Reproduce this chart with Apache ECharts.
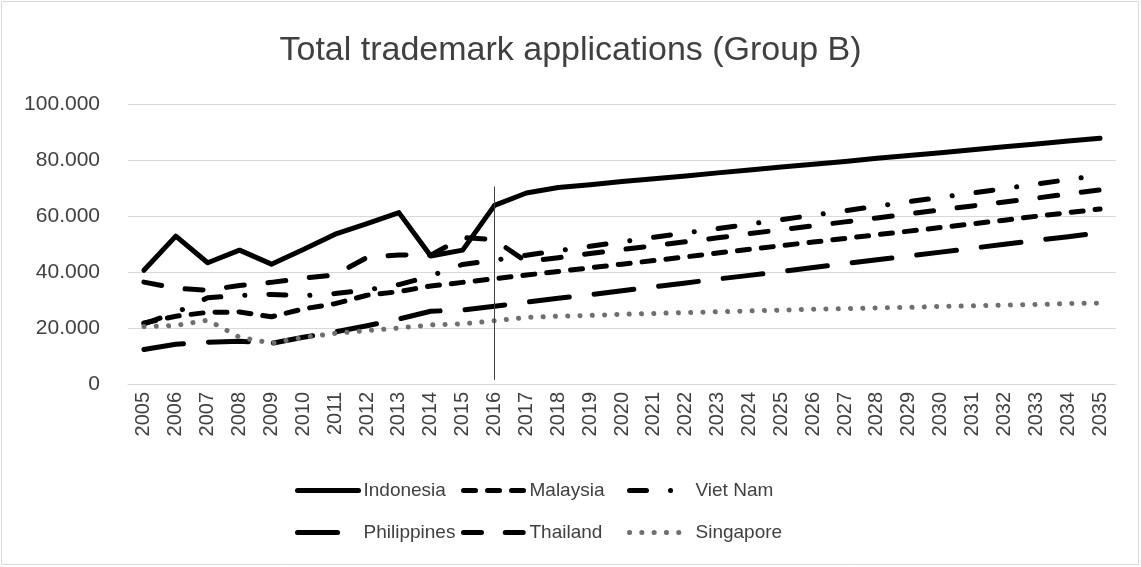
<!DOCTYPE html>
<html>
<head>
<meta charset="utf-8">
<script src="https://cdn.jsdelivr.net/npm/echarts@6/dist/echarts.min.js"></script>
<style>
  html, body { margin: 0; padding: 0; background: #fff; }
  #chart { width: 1141px; height: 567px; }
</style>
</head>
<body>
<div id="chart"></div>
<script>
  // categories
  const years = ['2005', '2006', '2007', '2008', '2009', '2010', '2011', '2012', '2013', '2014', '2015',
    '2016', '2017', '2018', '2019', '2020', '2021', '2022', '2023', '2024', '2025', '2026', '2027',
    '2028', '2029', '2030', '2031', '2032', '2033', '2034', '2035'];

  // values (applications)
  const indonesia = [40600, 52800, 43300, 47800, 42800, 48000, 53500, 57300, 61200, 45700, 47800,
    63800, 68200, 70200, 71200, 72300, 73300, 74300, 75400, 76400, 77500, 78500, 79500,
    80600, 81600, 82600, 83700, 84700, 85700, 86800, 87800];
  const malaysia = [21800, 24200, 25600, 25700, 24000, 26800, 28700, 31700, 33000, 35000, 36300,
    37600, 38900, 40200, 41500, 42800, 44100, 45400, 46800, 48100, 49400, 50700, 52000,
    53300, 54600, 55900, 57200, 58500, 59900, 61200, 62500];
  const vietNam = [21500, 25500, 30800, 31600, 32000, 31500, 32300, 33600, 35500, 38600, 42700,
    44200, 46000, 47600, 49200, 50800, 52400, 54000, 55500, 57100, 58700, 60300, 61900,
    63500, 65100, 66700, 68200, 69800, 71400, 73000, 74600];
  const philippines = [12300, 14200, 14900, 15300, 14500, 16700, 18600, 20800, 23200, 26000, 26400,
    27800, 29200, 30600, 31900, 33300, 34700, 36100, 37500, 38800, 40200, 41600, 43000,
    44400, 45700, 47100, 48500, 49900, 51300, 52600, 54000];
  const thailand = [36400, 34200, 33500, 35200, 36300, 37800, 39000, 45200, 46100, 46000, 52300,
    51500, 43700, 45100, 46600, 48000, 49400, 50800, 52200, 53700, 55100, 56500, 57900,
    59300, 60800, 62200, 63600, 65000, 66400, 67900, 69300];
  const singapore = [20500, 20900, 22800, 16700, 14600, 16600, 18100, 19100, 20000, 21100, 21500,
    22600, 23800, 24200, 24500, 24900, 25200, 25500, 25800, 26100, 26400, 26700, 26900,
    27200, 27400, 27700, 27900, 28200, 28400, 28700, 28900];

  const yTicks = [0, 20000, 40000, 60000, 80000, 100000];

  const font = 'Liberation Sans';
  const textColor = '#404040';

  const chart = echarts.init(document.getElementById('chart'));

  function lineSeries(name, data, color, dash) {
    return {
      name: name,
      type: 'line',
      data: data,
      symbol: 'none',
      smooth: false,
      lineStyle: {
        width: 5,
        color: color,
        type: dash,
        cap: 'round',
        join: 'round'
      },
      itemStyle: { color: color },
      emphasis: { disabled: true }
    };
  }

  const series = [
    lineSeries('Indonesia', indonesia, '#000000', 'solid'),
    lineSeries('Malaysia', malaysia, '#000000', [12, 12]),
    lineSeries('Viet Nam', vietNam, '#000000', [17, 24, 0.1, 24]),
    lineSeries('Philippines', philippines, '#000000', [40, 25]),
    lineSeries('Thailand', thailand, '#000000', [18, 23.7]),
    lineSeries('Singapore', singapore, '#6f6f6f', [0.1, 12.2])
  ];

  // thin vertical marker at 2016
  series[0].markLine = {
    silent: true,
    symbol: 'none',
    label: { show: false },
    lineStyle: { color: '#404040', width: 1, type: 'solid', cap: 'butt' },
    data: [[{ coord: ['2016', 70500] }, { coord: ['2016', 1500] }]]
  };

  function legendCol(left, names) {
    return {
      data: names,
      orient: 'vertical',
      left: left,
      top: 476,
      itemWidth: 61,
      itemHeight: 14,
      itemGap: 23,
      selectedMode: false,
      itemStyle: { opacity: 0 },
      lineStyle: { width: 5, cap: 'round' },
      textStyle: { fontFamily: font, fontSize: 19, color: textColor }
    };
  }

  const option = {
    animation: false,
    backgroundColor: '#ffffff',
    title: {
      text: 'Total trademark applications (Group B)',
      left: 'center',
      top: 29,
      textStyle: { fontFamily: font, fontSize: 34, fontWeight: 'normal', color: textColor }
    },
    graphic: [{
      type: 'rect',
      shape: { x: 1.5, y: 1.5, width: 1137, height: 563 },
      style: { fill: null, stroke: '#d9d9d9', lineWidth: 1 },
      silent: true
    }],
    legend: [
      legendCol(290, ['Indonesia', 'Philippines']),
      legendCol(456, ['Malaysia', 'Thailand']),
      legendCol(622, ['Viet Nam', 'Singapore'])
    ],
    grid: { left: 128, right: 25, top: 104, bottom: 183 },
    xAxis: {
      type: 'category',
      data: years,
      boundaryGap: true,
      axisLine: { show: true, lineStyle: { color: '#d9d9d9', width: 1 } },
      axisTick: { show: false },
      axisLabel: {
        interval: 0,
        rotate: 90,
        margin: 8,
        fontFamily: font,
        fontSize: 20,
        color: textColor
      },
      splitLine: { show: false }
    },
    yAxis: {
      type: 'value',
      min: yTicks[0],
      max: yTicks[yTicks.length - 1],
      interval: 20000,
      axisLine: { show: false },
      axisTick: { show: false },
      splitLine: { lineStyle: { color: '#d9d9d9', width: 1 } },
      axisLabel: {
        margin: 28,
        fontFamily: font,
        fontSize: 21,
        color: textColor,
        formatter: function (v) {
          return v === 0 ? '0' : (v / 1000).toFixed(3);
        }
      }
    },
    series: series
  };

  chart.setOption(option);
</script>
</body>
</html>
